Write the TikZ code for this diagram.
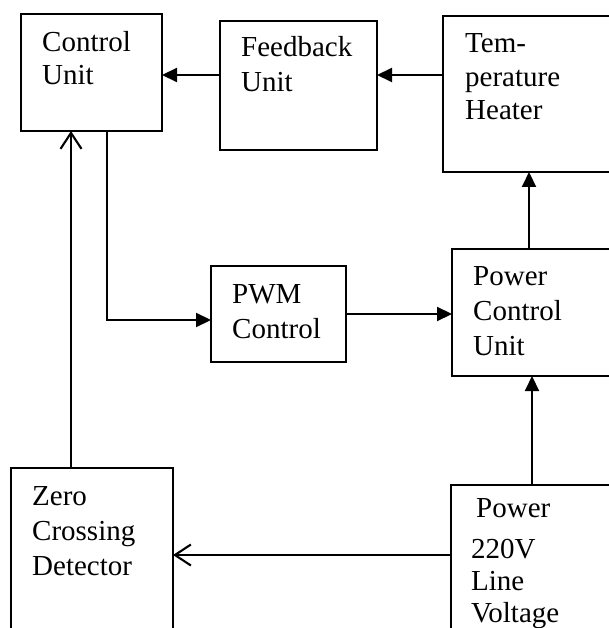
\documentclass[tikz,border=0pt]{standalone}
\usepackage{fontspec}
\setmainfont{Liberation Serif}
\usetikzlibrary{arrows.meta}
\begin{document}
\begin{tikzpicture}[x=1pt,y=-1pt,
  box/.style={draw, line width=2.1pt, inner sep=0pt, outer sep=0pt, anchor=north west},
  txt/.style={anchor=base west, inner sep=0pt, align=left, font=\fontsize{29}{35}\selectfont},
  conn/.style={line width=2.1pt},
  farrow/.style={conn, -{Triangle[length=15pt,width=14pt]}},
  oarrow/.style={conn, -{Straight Barb[length=16pt,width=21pt,line width=2.1pt]}}]
\useasboundingbox (0,0) rectangle (609,628);
% boxes
\node[box, minimum width=141pt, minimum height=117pt] (cu) at (21,14) {};
\node[box, minimum width=157pt, minimum height=129pt] (fb) at (220,21) {};
\node[box, minimum width=180pt, minimum height=156pt] (th) at (443,16) {};
\node[box, minimum width=135pt, minimum height=96pt] (pwm) at (211,266) {};
\node[box, minimum width=170pt, minimum height=127pt] (pcu) at (452,249) {};
\node[box, minimum width=162pt, minimum height=170pt] (zcd) at (11,468) {};
\node[box, minimum width=170pt, minimum height=155pt] (pw) at (451,485) {};
% texts (anchored at the baseline of the last line)
\node[txt, font=\fontsize{29}{33.3}\selectfont] (tcu) at (42,85) {Control\\Unit};
\node[txt] (tfb) at (241,92) {Feedback\\Unit};
\node[txt, font=\fontsize{29}{33.5}\selectfont] (tth) at (465,120) {Tem-\\perature\\Heater};
\node[txt] (tpwm) at (232,338) {PWM\\Control};
\node[txt] (tpcu) at (473,355) {Power\\Control\\Unit};
\node[txt] (tzcd) at (32,575) {Zero\\Crossing\\Detector};
\node[txt] (tpw) at (476,517) {Power};
\node[txt, font=\fontsize{29}{31.7}\selectfont] (tlv) at (471,622) {220V\\Line\\Voltage};
% connectors
\coordinate (h1) at (0,75);
\draw[farrow] (fb.west |- h1) -- (cu.east |- h1);
\draw[farrow] (th.west |- h1) -- (fb.east |- h1);
\coordinate (v1) at (529,0);
\draw[farrow] (pcu.north -| v1) -- (th.south -| v1);
\coordinate (v2) at (532,0);
\draw[farrow] (pw.north -| v2) -- (pcu.south -| v2);
\draw[farrow] (pwm.east) -- (pwm.east -| pcu.west);
\coordinate (k) at (107,320);
\draw[farrow] (cu.south -| k) -- (k) -- (pwm.west |- k);
\coordinate (v3) at (71,0);
\draw[oarrow] (zcd.north -| v3) -- (cu.south -| v3);
\coordinate (h2) at (0,555);
\draw[oarrow] (pw.west |- h2) -- (zcd.east |- h2);
\end{tikzpicture}
\end{document}
